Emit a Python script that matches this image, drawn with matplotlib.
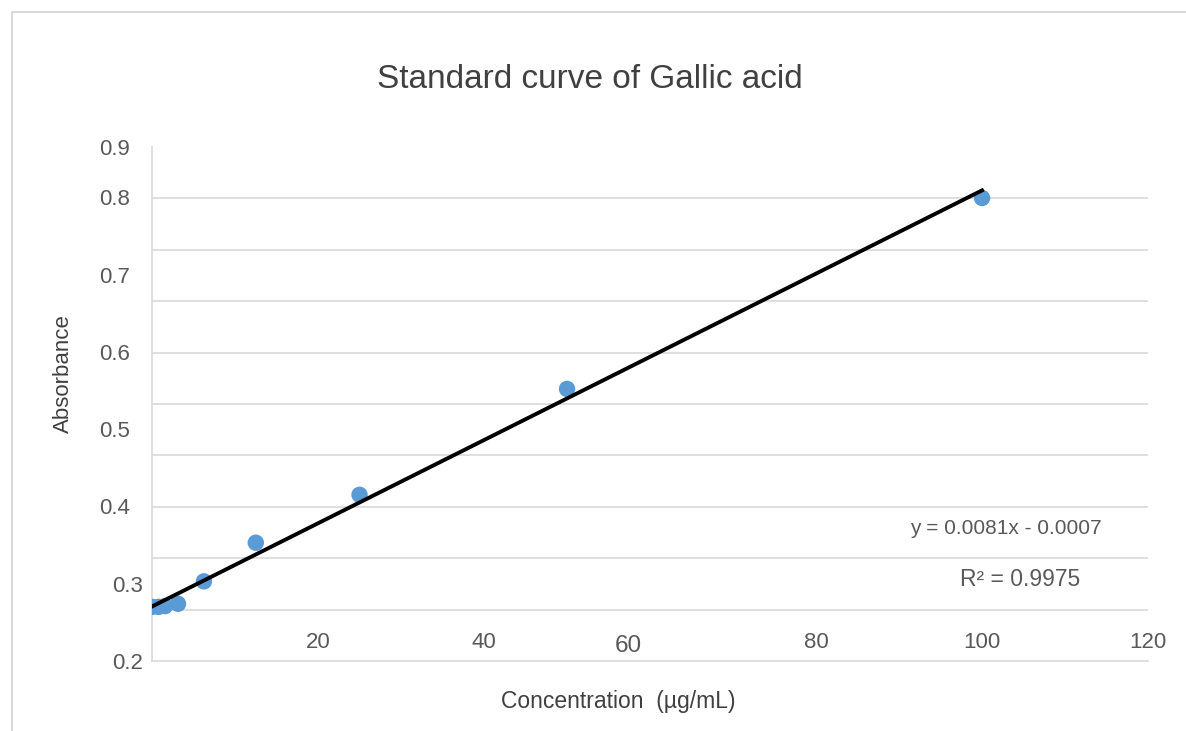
import numpy as np
import matplotlib
matplotlib.use('Agg')
import matplotlib.pyplot as plt
from matplotlib.transforms import ScaledTranslation
from matplotlib.lines import Line2D

plt.rcParams['font.family'] = ['Liberation Sans', 'DejaVu Sans']

# data
concentration = [0, 0.78, 1.56, 3.125, 6.25, 12.5, 25, 50, 100]
absorbance = [0.270, 0.270, 0.271, 0.274, 0.303, 0.353, 0.415, 0.552, 0.799]
x_ticks = [20, 40, 60, 80, 100, 120]
y_ticks = [0.2, 0.3, 0.4, 0.5, 0.6, 0.7, 0.8]
y_tick_labels = ['0.2', '0.3', '0.4', '0.5', '0.6', '0.7', '0.8', '0.9']
equation = 'y = 0.0081x - 0.0007'
r_squared = 'R² = 0.9975'

y_min, y_max = 0.2, 0.865
grid_col = '#d9d9d9'
text_col = '#595959'

fig = plt.figure(figsize=(11.86, 7.31), dpi=100)
ax = fig.add_axes([0.1282, 0.0958, 0.8398, 0.7031])

# outer chart frame (left and top edges only visible)
fig.add_artist(Line2D([12 / 1186, 12 / 1186], [0, 1 - 12 / 731],
                      transform=fig.transFigure, color=grid_col, lw=1.5))
fig.add_artist(Line2D([12 / 1186, 1], [1 - 12 / 731, 1 - 12 / 731],
                      transform=fig.transFigure, color=grid_col, lw=1.5))

ax.scatter(concentration, absorbance, s=140, color='#5b9bd5', zorder=3,
           edgecolors='none')

slope, intercept = np.polyfit(concentration, absorbance, 1)
xs = np.array([min(concentration), max(concentration)])
ax.plot(xs, slope * xs + intercept, color='black', lw=2.8, zorder=4)

ax.set_xlim(0, 120)
ax.set_ylim(y_min, y_max)

ax.set_xticks(x_ticks)
ax.set_xticklabels([str(t) for t in x_ticks])
ax.set_yticks(y_ticks + [y_max])
ax.set_yticklabels(y_tick_labels)

# gridlines split the plot height into ten equal bands
ax.set_yticks(np.linspace(y_min, y_max, 11), minor=True)
ax.grid(which='minor', axis='y', color=grid_col, lw=1.2)
ax.grid(which='major', visible=False)

ax.tick_params(axis='both', which='both', length=0, colors=text_col, labelsize=16)
ax.tick_params(axis='x', pad=-21)
ax.tick_params(axis='y', pad=16)

for name in ['top', 'right']:
    ax.spines[name].set_visible(False)
for name in ['left', 'bottom']:
    ax.spines[name].set_color(grid_col)
    ax.spines[name].set_linewidth(1.2)

fig.canvas.draw()
for lab in ax.get_xticklabels():
    if lab.get_text() == '60':
        lab.set_fontsize(17.5)
        lab.set_transform(lab.get_transform() + ScaledTranslation(-0.22, -0.03, fig.dpi_scale_trans))
for lab in ax.get_yticklabels():
    if lab.get_text() in ('0.2', '0.3'):
        lab.set_transform(lab.get_transform() + ScaledTranslation(0.13, 0, fig.dpi_scale_trans))

ax.set_xlabel('Concentration  (µg/mL)', fontsize=16.5, color='#404040')
ax.xaxis.set_label_coords(466 / 996, -0.056)
ax.set_ylabel('Absorbance', fontsize=16, color='#404040')
ax.yaxis.set_label_coords(-78 / 996, 0.56)

fig.text(590 / 1186, 1 - 79 / 731, 'Standard curve of Gallic acid',
         fontsize=24, color='#404040', ha='center', va='center')

ax.text(1006 / 1186, 1 - 529 / 731, equation, transform=fig.transFigure,
        fontsize=15, color=text_col, ha='center', va='center')
ax.text(1020 / 1186, 1 - 580 / 731, r_squared, transform=fig.transFigure,
        fontsize=16.5, color=text_col, ha='center', va='center')

fig.savefig('out.png', dpi=100)
